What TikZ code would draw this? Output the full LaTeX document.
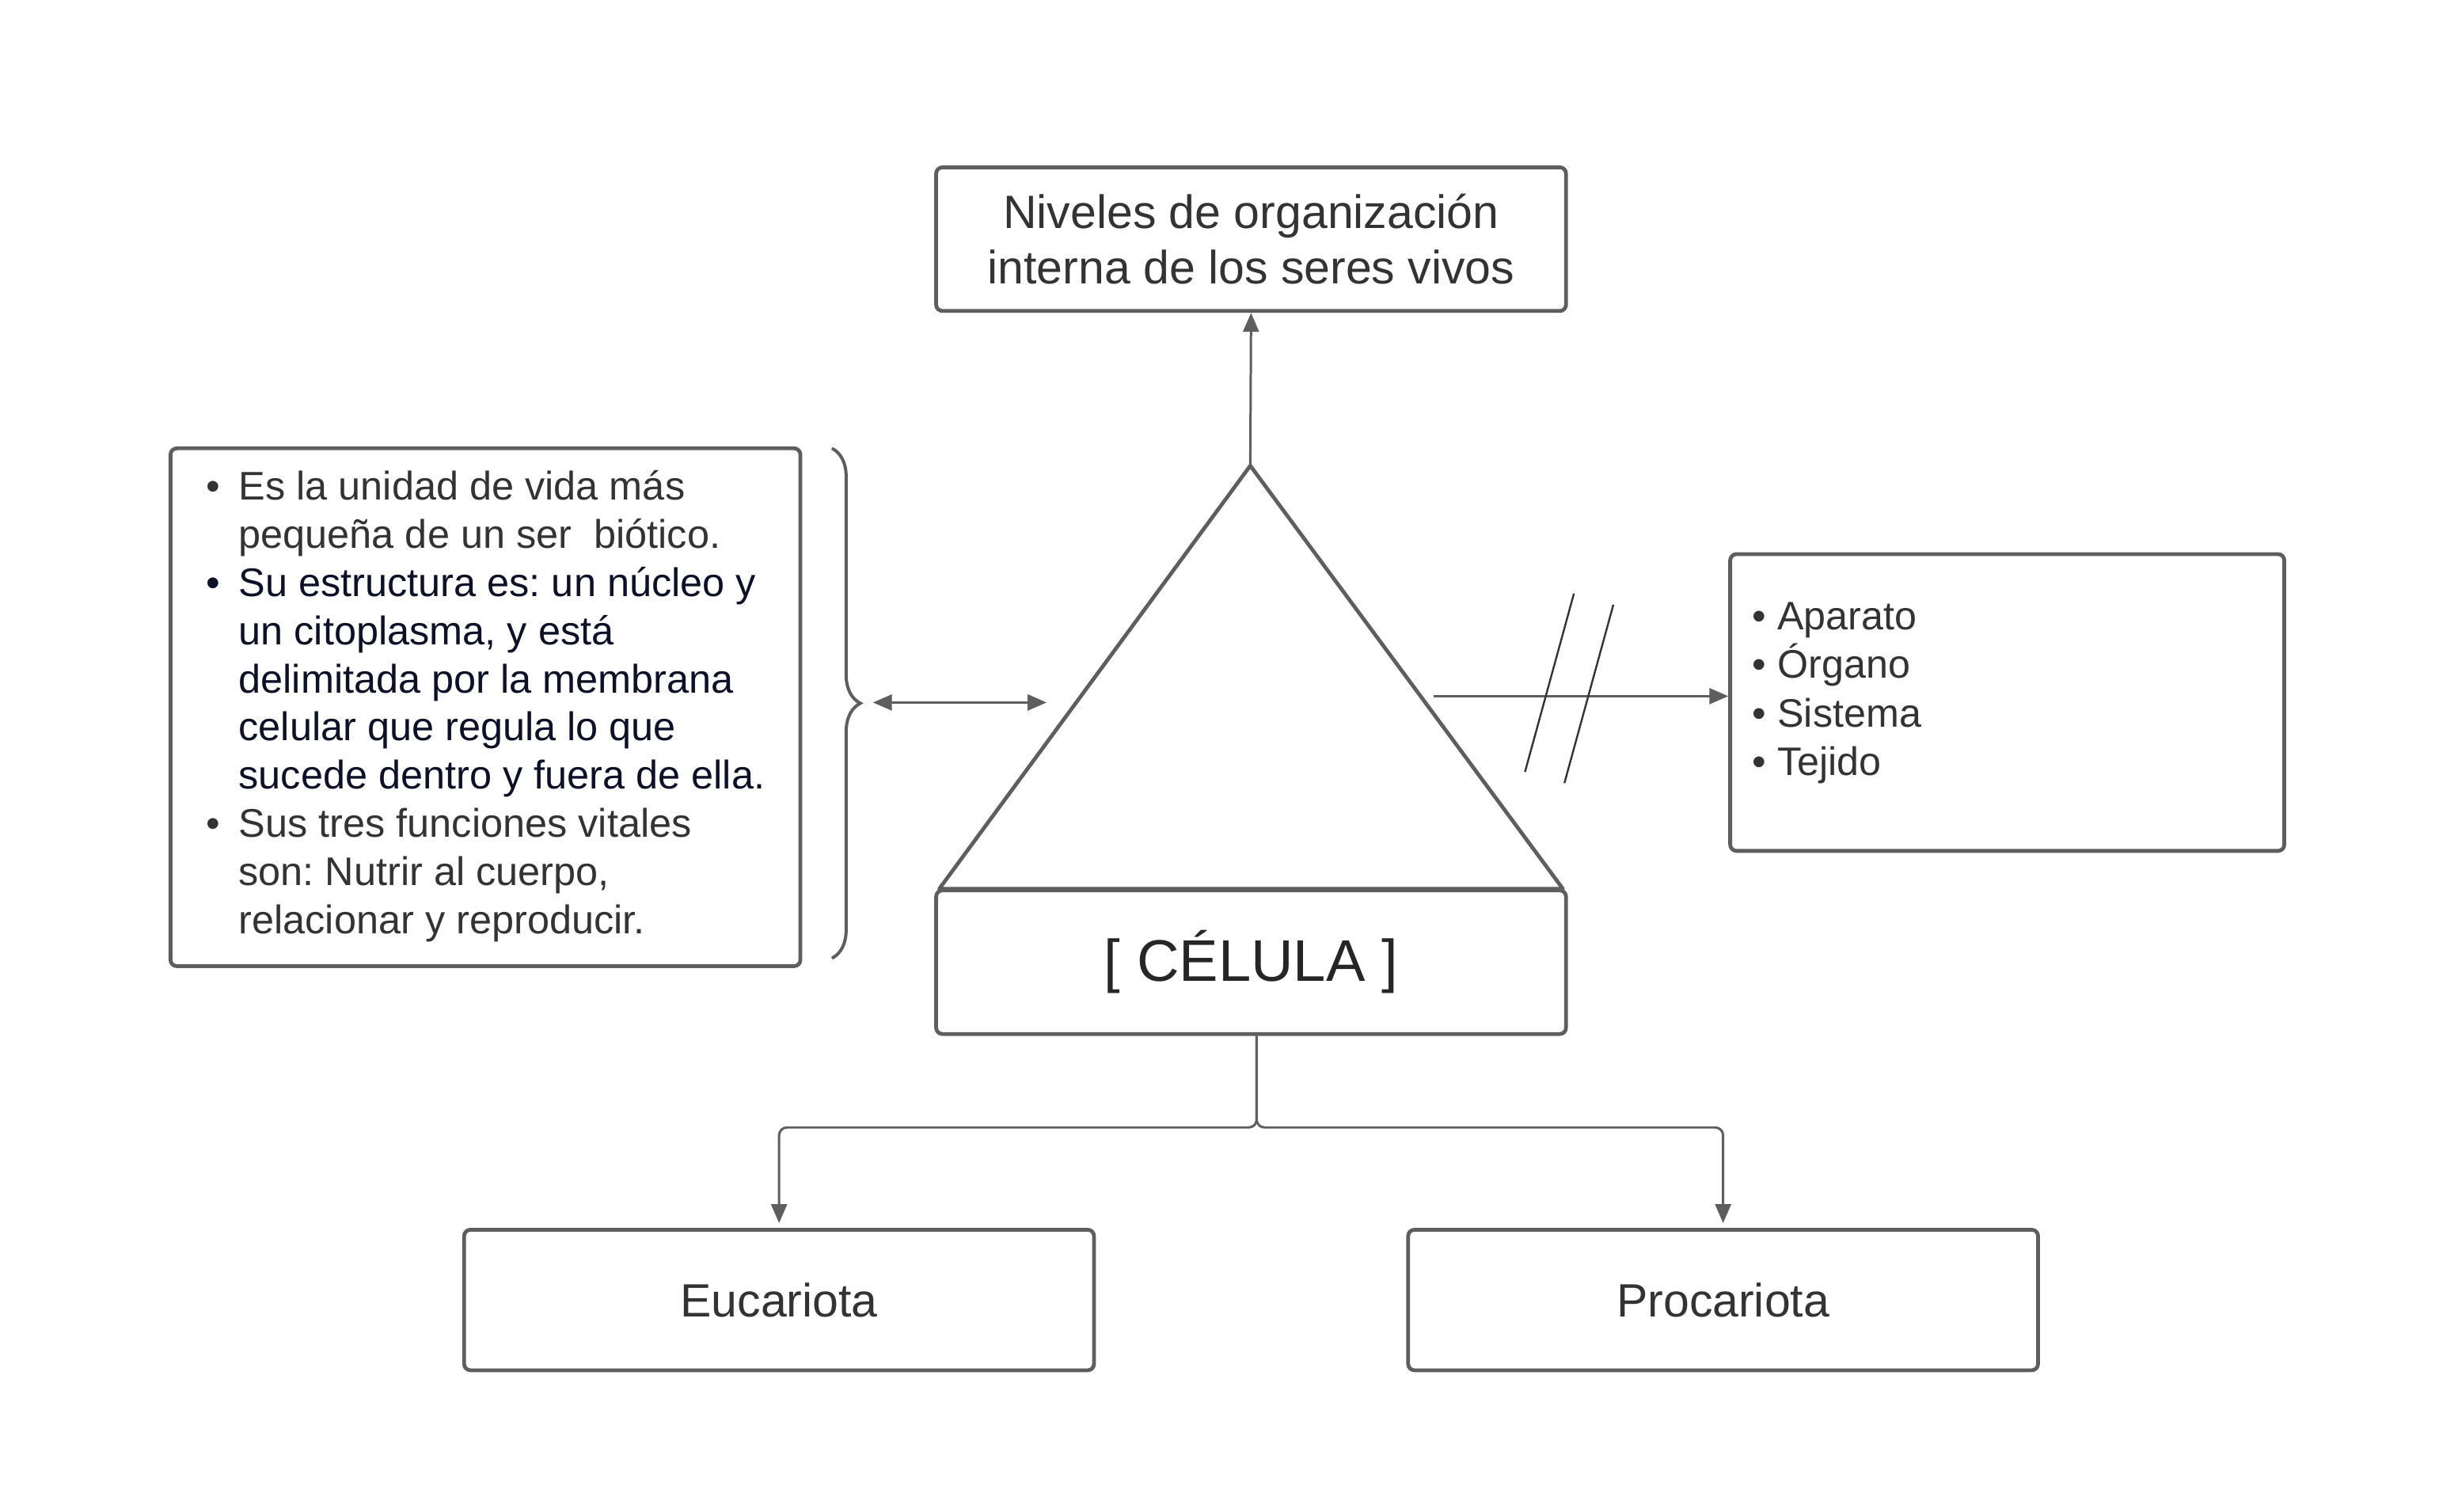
\documentclass[tikz,border=0pt]{standalone}
\usepackage{fontspec}
\setmainfont{Liberation Sans}
\usepackage{xcolor}
\usetikzlibrary{arrows.meta,decorations.pathreplacing}
\frenchspacing

\definecolor{linegray}{RGB}{94,94,94}
\definecolor{txtgray}{RGB}{51,51,51}
\definecolor{txtnavy}{RGB}{12,17,40}

\begin{document}
\begin{tikzpicture}[x=1pt,y=1pt,yscale=-1,xscale=1,
  cellbox/.style={draw=linegray,line width=2.4pt,rounded corners=4pt,inner sep=0pt,text=txtgray},
  conn/.style={draw=linegray,line width=1.5pt},
  arrowtip/.style={-{Triangle[length=12pt,width=10pt]}},
  twotips/.style={{Triangle[length=12pt,width=10pt]}-{Triangle[length=12pt,width=10pt]}}]
%set diagram size
\useasboundingbox (0,0) rectangle (1545,957.3);

%Shape: Rectangle, top
\node[cellbox,minimum width=399pt,minimum height=91pt,align=center,
  font=\fontsize{29.6}{35}\selectfont] (niveles) at (792.5,151.5)
  {Niveles de organización\\interna de los seres vivos};

%Shape: Triangle
\coordinate (apex) at (792,295);
\coordinate (baseL) at (595,563);
\coordinate (baseR) at (990,563);
\draw[linegray,line width=2.4pt,line join=round] (apex) -- (baseR) -- (baseL) -- cycle;

%Shape: Rectangle, cell
\node[cellbox,minimum width=399pt,minimum height=91pt,text=black!85,
  font=\fontsize{37.2}{44}\selectfont] (celula) at (792.5,609.5) {[ CÉLULA ]};

%Shape: Rectangle, left list
\node[cellbox,minimum width=399pt,minimum height=328pt,
  font=\fontsize{25.3}{30.5}\selectfont] (info) at (307.5,448)
  {\begin{tabular}{@{}l@{\hspace{12pt}}l@{}}
   \textbullet & Es la unidad de vida más\\
               & pequeña de un ser \ biótico.\\
   \color{txtnavy}\textbullet & \color{txtnavy}Su estructura es: un núcleo y\\
               & \color{txtnavy}un citoplasma, y está\\
               & \color{txtnavy}delimitada por la membrana\\
               & \color{txtnavy}celular que regula lo que\\
               & \color{txtnavy}sucede dentro y fuera de ella.\\
   \textbullet & Sus tres funciones vitales\\
               & son: Nutrir al cuerpo,\\
               & relacionar y reproducir.
   \end{tabular}};

%Shape: Rectangle, right list
\node[cellbox,minimum width=351pt,minimum height=188pt] (niv) at (1271.5,445) {};
% Text Node
\node[anchor=west,inner sep=0pt,text=txtgray,align=left,
  font=\fontsize{25.2}{30.7}\selectfont] (nivtxt) at (1110,439)
  {\textbullet\ Aparato\\\textbullet\ Órgano\\\textbullet\ Sistema\\\textbullet\ Tejido};

%Shape: Rectangle, bottom
\node[cellbox,minimum width=399pt,minimum height=89pt,
  font=\fontsize{29.6}{35}\selectfont] (euc) at (493.5,823.5) {Eucariota};
\node[cellbox,minimum width=399pt,minimum height=89pt,
  font=\fontsize{29.6}{35}\selectfont] (pro) at (1091.5,823.5) {Procariota};

%Brace
\coordinate (bTop) at (527,284);
\coordinate (bBot) at (527,607);
\draw[linegray,line width=2pt,decorate,decoration={brace,amplitude=18pt}] (bTop) -- (bBot);

%Straight Lines
\draw[conn,arrowtip] (apex) -- (niveles.south);
\coordinate (bTip) at (553,445);
\coordinate (tLeft) at (663,445);
\draw[conn,twotips] (bTip) -- (tLeft);
\coordinate (rStart) at (908,441);
\draw[conn,arrowtip] (rStart) -- (rStart -| niv.west);
\draw[txtgray,line width=1.2pt] (997,376) -- (966,489);
\draw[txtgray,line width=1.2pt] (1022,383) -- (991,496);

%Connector lines
\coordinate (split) at ([xshift=3.5pt]celula.south);
\draw[conn,arrowtip,rounded corners=5pt,shorten >=3pt] (split) -- ++(0,58) -| (euc.north);
\draw[conn,arrowtip,rounded corners=5pt,shorten >=3pt] (split) -- ++(0,58) -| (pro.north);

\end{tikzpicture}
\end{document}
